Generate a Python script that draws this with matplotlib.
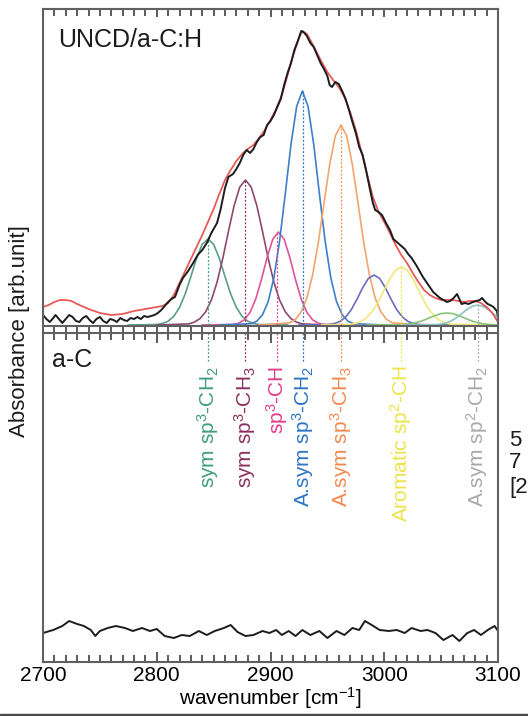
import matplotlib
matplotlib.use("Agg")
import matplotlib.pyplot as plt
from matplotlib.patches import Rectangle
from matplotlib.ticker import MultipleLocator

plt.rcParams["font.family"] = ["Liberation Sans", "DejaVu Sans"]
plt.rcParams["mathtext.fontset"] = "custom"
plt.rcParams["mathtext.rm"] = "Liberation Sans"
plt.rcParams["mathtext.it"] = "Liberation Sans:italic"

# ---- UNCD/a-C:H measured spectrum (absorbance, arb. units) ----
uncd_wn = [2700, 2703, 2706, 2709, 2711, 2714, 2717, 2720, 2723, 2726, 2729, 2732, 2735, 2738,
           2741, 2744, 2747, 2750, 2753, 2756, 2759, 2762, 2765, 2768, 2771, 2774, 2777, 2780,
           2783, 2786, 2789, 2792, 2795, 2798, 2801, 2804, 2807, 2810, 2813, 2816, 2820, 2823,
           2827, 2832, 2836, 2840, 2844, 2848, 2853, 2856, 2860, 2863, 2867, 2870, 2873, 2876,
           2879, 2882, 2885, 2888, 2891, 2894, 2897, 2900, 2903, 2906, 2909, 2912, 2915, 2918,
           2921, 2924, 2927, 2929, 2932, 2935, 2938, 2941, 2944, 2947, 2950, 2952, 2954, 2957,
           2960, 2963, 2966, 2969, 2972, 2975, 2978, 2981, 2984, 2987, 2990, 2992, 2995, 2998,
           3002, 3005, 3008, 3011, 3014, 3018, 3021, 3024, 3028, 3031, 3034, 3037, 3040, 3043,
           3046, 3049, 3052, 3055, 3058, 3061, 3064, 3066, 3068, 3071, 3074, 3078, 3081, 3084,
           3086, 3089, 3091, 3093, 3096, 3099, 3100]
uncd_abs = [10, 6, 3, 7, 10, 6, 2, 6, 10, 8, 4, 3, 7, 9,
            5, 2, 6, 8, 4, 2, 6, 5, 3, 7, 5, 4, 7, 6,
            8, 6, 9, 8, 9, 10, 12, 15, 19, 23, 26, 28, 40, 47,
            53, 62, 70, 75, 82, 92, 102, 115, 137, 148, 151, 156, 162, 170,
            175, 172, 176, 183, 188, 190, 200, 204, 210, 218, 226, 240, 252, 262,
            275, 284, 294, 293, 289, 282, 278, 270, 262, 256, 249, 240, 238, 243,
            241, 234, 226, 215, 203, 192, 178, 170, 155, 138, 122, 115, 113, 110,
            101, 95, 86, 83, 80, 76, 71, 67, 60, 54, 48, 43, 38, 33,
            30, 27, 25, 23, 24, 27, 31, 26, 21, 22, 21, 23, 24, 25,
            27, 23, 21, 20, 18, 14, 8]

# ---- fitted envelope (red) ----
fit_wn = [2700, 2705, 2710, 2715, 2720, 2725, 2730, 2740, 2750, 2760, 2770, 2780, 2790, 2800,
          2805, 2810, 2815, 2820, 2825, 2830, 2835, 2840, 2845, 2850, 2855, 2860, 2865, 2870,
          2875, 2880, 2885, 2890, 2895, 2900, 2905, 2910, 2915, 2920, 2925, 2928, 2932, 2935,
          2940, 2945, 2950, 2955, 2960, 2965, 2970, 2975, 2980, 2985, 2990, 2995, 3000, 3005,
          3010, 3015, 3020, 3025, 3030, 3035, 3040, 3045, 3050, 3055, 3060, 3065, 3070, 3075,
          3080, 3085, 3090, 3095, 3100]
fit_abs = [18, 20, 23, 25, 25, 24, 21, 16, 12, 10, 11, 14, 16, 18,
           19, 22, 30, 42, 54, 66, 78, 90, 103, 116, 131, 145, 155, 164,
           171, 176, 180, 187, 195, 205, 216, 230, 250, 270, 287, 294, 291, 285,
           274, 263, 253, 245, 238, 228, 213, 195, 173, 150, 128, 113, 103, 92,
           80, 70, 62, 52, 43, 35, 30, 27, 25, 25, 25, 24, 23, 24,
           24, 22, 18, 12, 3]

# ---- fitted component bands ----
teal_wn = [2775, 2800, 2805, 2810, 2815, 2820, 2825, 2830, 2835, 2840, 2845, 2850, 2855, 2860,
           2865, 2870, 2875, 2880, 2885, 2890, 2915]
teal_abs = [0, 0.5, 1.5, 3.8, 8.7, 17.5, 31.0, 48.4, 66.7, 80.7, 86, 80.7, 66.7, 48.4,
            31.0, 17.5, 8.7, 3.8, 1.5, 0.5, 0]

maroon_wn = [2800, 2828, 2833, 2838, 2843, 2848, 2853, 2858, 2863, 2868, 2873, 2878, 2883, 2888,
             2893, 2898, 2903, 2908, 2913, 2918, 2923, 2928, 2950]
maroon_abs = [0, 1.1, 2.8, 6.4, 13.2, 24.9, 42.8, 66.4, 93.4, 119.3, 138.0, 145, 138.0, 119.3,
              93.4, 66.4, 42.8, 24.9, 13.2, 6.4, 2.8, 1.1, 0]

magenta_wn = [2840, 2867, 2872, 2877, 2882, 2887, 2892, 2897, 2902, 2907, 2912, 2917, 2922,
              2927, 2932, 2937, 2942, 2947, 2975]
magenta_abs = [0, 0.6, 1.8, 5.2, 12.6, 25.9, 45.3, 67.5, 85.8, 93, 85.8, 67.5, 45.3,
               25.9, 12.6, 5.2, 1.8, 0.6, 0]

blue_wn = [2855, 2883, 2888, 2893, 2898, 2903, 2908, 2913, 2918, 2923, 2928, 2933, 2938, 2943,
           2948, 2953, 2958, 2963, 2968, 2973, 3000]
blue_abs = [0, 1.3, 3.9, 10.3, 23.5, 47.3, 84.1, 131.2, 180.6, 218.6, 234, 218.6, 180.6, 131.2,
            84.1, 47.3, 23.5, 10.3, 3.9, 1.3, 0]

orange_wn = [2890, 2917, 2922, 2927, 2932, 2937, 2942, 2947, 2952, 2957, 2962, 2967, 2972, 2977,
             2982, 2987, 2992, 2997, 3002, 3007, 3035]
orange_abs = [0, 2.2, 5.7, 13.2, 27.0, 49.8, 82.2, 121.4, 160.2, 189.2, 200, 189.2, 160.2, 121.4,
              82.2, 49.8, 27.0, 13.2, 5.7, 2.2, 0]

slate_wn = [2925, 2951, 2956, 2961, 2966, 2971, 2976, 2981, 2986, 2991, 2996, 3001, 3006, 3011,
            3016, 3021, 3026, 3031, 3060]
slate_abs = [0, 0.4, 1.4, 3.5, 7.9, 15.3, 25.7, 37.2, 46.5, 50, 46.5, 37.2, 25.7, 15.3,
             7.9, 3.5, 1.4, 0.4, 0]

yellow_wn = [2945, 2970, 2975, 2980, 2985, 2990, 2995, 3000, 3005, 3010, 3015, 3020, 3025, 3030,
             3035, 3040, 3045, 3050, 3055, 3060, 3100]
yellow_abs = [0, 0.6, 1.7, 3.8, 7.8, 14.4, 23.8, 35.2, 46.5, 54.9, 58, 54.9, 46.5, 35.2,
              23.8, 14.4, 7.8, 3.8, 1.7, 0.6, 0]

green_wn = [2985, 3010, 3015, 3020, 3025, 3030, 3035, 3040, 3045, 3050, 3055, 3060, 3065, 3070,
            3075, 3080, 3085, 3090, 3095, 3100]
green_abs = [0, 0.1, 0.3, 0.8, 1.6, 3.0, 4.9, 7.3, 9.6, 11.4, 12, 11.4, 9.6, 7.3,
             4.9, 3.0, 1.6, 0.8, 0.3, 0.1]

grey_wn = [3015, 3042, 3047, 3052, 3057, 3062, 3067, 3072, 3077, 3082, 3087, 3092, 3097, 3100]
grey_abs = [0, 0.2, 0.5, 1.4, 3.1, 6.1, 10.3, 14.9, 18.6, 20, 18.6, 14.9, 10.3, 7.7]

# ---- a-C measured spectrum ----
ac_wn = [2700, 2709, 2717, 2723, 2730, 2736, 2742, 2746, 2750, 2757, 2764, 2772, 2779, 2787,
         2794, 2800, 2807, 2815, 2822, 2829, 2837, 2844, 2851, 2859, 2865, 2871, 2878, 2885,
         2893, 2899, 2905, 2910, 2916, 2922, 2928, 2935, 2943, 2950, 2958, 2965, 2972, 2978,
         2983, 2989, 2996, 3004, 3011, 3018, 3024, 3032, 3038, 3045, 3052, 3060, 3066, 3073,
         3079, 3085, 3091, 3097, 3100]
ac_abs = [29, 32, 36, 41, 38, 36, 32, 26, 31, 34, 36, 34, 31, 34,
          31, 33, 26, 24, 27, 26, 31, 27, 31, 34, 37, 30, 26, 27,
          31, 29, 32, 27, 31, 26, 32, 27, 31, 24, 31, 27, 34, 32,
          41, 37, 32, 31, 32, 29, 34, 31, 32, 29, 22, 27, 21, 29,
          32, 27, 32, 36, 31]

# band assignments: label, position, peak height, line colour
band_labels = ["sym sp$^3$-CH$_2$", "sym sp$^3$-CH$_3$", "sp$^3$-CH", "A.sym sp$^3$-CH$_2$",
               "A.sym sp$^3$-CH$_3$", "Aromatic sp$^2$-CH", "A.sym sp$^2$-CH$_2$"]
band_pos = [2845, 2878, 2906, 2929, 2962, 3015, 3082]
band_peak = [86, 145, 93, 234, 200, 58, 20]
band_colors = ["#3f9c80", "#8c2f5e", "#e23c8a", "#2c74c6", "#f28a4e", "#ece44a", "#a8a8a8"]

components = [
    (teal_wn, teal_abs, "#5a9e86"),
    (maroon_wn, maroon_abs, "#8e4a6e"),
    (magenta_wn, magenta_abs, "#e0559a"),
    (blue_wn, blue_abs, "#3d80c8"),
    (orange_wn, orange_abs, "#f5a46e"),
    (slate_wn, slate_abs, "#6c6cc0"),
    (yellow_wn, yellow_abs, "#f0e87a"),
    (green_wn, green_abs, "#86c47a"),
    (grey_wn, grey_abs, "#8cc4bc"),
]

W, H = 528, 716
fig = plt.figure(figsize=(W / 100, H / 100), dpi=100)
ax1 = fig.add_axes([43 / W, 1 - 326 / H, 455 / W, 317 / H])
ax2 = fig.add_axes([43 / W, 1 - 662 / H, 455 / W, 329 / H])

for wn, ab, col in components:
    ax1.plot(wn, ab, color=col, lw=1.2)
for x, h, col in zip(band_pos, band_peak, band_colors):
    ax1.plot([x, x], [0, h], color=col, lw=0.9, ls=(0, (1.5, 1.5)))
ax1.plot(fit_wn, fit_abs, color="#e85a5a", lw=1.3)
ax1.plot(uncd_wn, uncd_abs, color="#1c1c1c", lw=1.4)
ax1.set_ylim(-1, 316)
ax1.text(0.034, 0.94, "UNCD/a-C:H", transform=ax1.transAxes, fontsize=18,
         va="top", ha="left", color="#1c1c1c")

ax2.plot(ac_wn, ac_abs, color="#1c1c1c", lw=1.4)
ax2.set_ylim(0, 329)
ax2.text(0.02, 0.955, "a-C", transform=ax2.transAxes, fontsize=18,
         va="top", ha="left", color="#1c1c1c")
for lab, x, col in zip(band_labels, band_pos, band_colors):
    ax2.plot([x, x], [329, 300], color=col, lw=0.9, ls=(0, (1.5, 1.5)))
    ax2.text(x, 296, lab, rotation=90, color=col, fontsize=15,
             ha="center", va="top")

for ax in (ax1, ax2):
    ax.set_xlim(2700, 3100)
    ax.set_yticks([])
    ax.xaxis.set_major_locator(MultipleLocator(100))
    ax.xaxis.set_minor_locator(MultipleLocator(10))
    for sp in ax.spines.values():
        sp.set_color("#606060")
        sp.set_linewidth(1.5)

ax1.tick_params(axis="x", which="both", top=True, bottom=False, direction="in",
                labelbottom=False, color="#404040", width=1.2)
ax1.tick_params(axis="x", which="major", length=6)
ax1.tick_params(axis="x", which="minor", length=5)
ax2.tick_params(axis="x", which="both", top=True, bottom=True, direction="in",
                color="#404040", width=1.2, labelsize=15, pad=3)
ax2.tick_params(axis="x", which="major", length=7)
ax2.tick_params(axis="x", which="minor", length=5)
# ticks under the upper panel, pointing into the gap
sec = ax1.secondary_xaxis("bottom")
sec.xaxis.set_major_locator(MultipleLocator(100))
sec.xaxis.set_minor_locator(MultipleLocator(10))
sec.tick_params(axis="x", which="both", direction="out", length=7, width=1.2,
                color="#404040", labelbottom=False)
sec.spines["bottom"].set_visible(False)

ax2.set_xlabel("wavenumber [cm$^{-1}$]", fontsize=15, labelpad=0)
fig.text(20 / W, 1 - 331 / H, "Absorbance [arb.unit]", rotation=90, fontsize=16,
         ha="center", va="center", color="#1c1c1c")

# text of the neighbouring panel at the right edge
for s, yp in zip(["5", "7", "[2"], [440, 463, 488]):
    fig.text(509 / W, 1 - yp / H, s, fontsize=16, ha="left", va="center", color="#1c1c1c")

fig.add_artist(Rectangle((0, 0), 1, 2 / H, transform=fig.transFigure, color="#4a4a4a"))

fig.savefig("out.png", dpi=100)
